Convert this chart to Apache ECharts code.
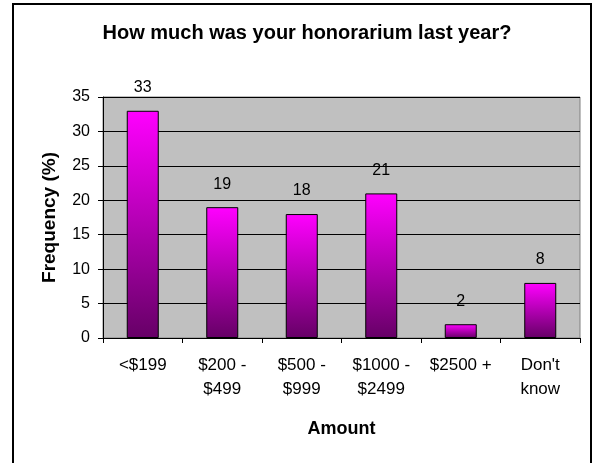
<!DOCTYPE html>
<html><head><meta charset="utf-8">
<script src="https://cdn.jsdelivr.net/npm/echarts@6/dist/echarts.min.js"></script>
<style>html,body{margin:0;padding:0;background:#fff}#c{width:596px;height:463px}</style>
</head><body><div id="c"></div>
<script>
var categories = ['<$199', '$200 -\n$499', '$500 -\n$999', '$1000 -\n$2499', '$2500 +', "Don't\nknow"];
var values = [33, 19, 18, 21, 2, 8];
var yTicks = [0, 5, 10, 15, 20, 25, 30, 35];
var titleText = 'How much was your honorarium last year?';
var xName = 'Amount';
var yName = 'Frequency (%)';

var chart = echarts.init(document.getElementById('c'), null, {renderer: 'canvas'});
var font = 'Liberation Sans, Arial, sans-serif';
chart.setOption({
  animation: false,
  backgroundColor: '#fff',
  graphic: [{type: 'rect', shape: {x: 13, y: 4, width: 578, height: 470}, style: {fill: 'none', stroke: '#000', lineWidth: 2}, z: 100}],
  title: {text: titleText, left: 302, top: 18, textAlign: 'center',
    textStyle: {fontFamily: font, fontSize: 20, fontWeight: 'bold', color: '#000'}},
  grid: {left: 103, top: 97, right: 16, bottom: 125, show: true, backgroundColor: '#C0C0C0', borderColor: '#808080', borderWidth: 1},
  xAxis: {type: 'category', data: categories, name: xName, nameLocation: 'middle', nameGap: 82,
    nameTextStyle: {fontFamily: font, fontSize: 18, fontWeight: 'bold', color: '#000'},
    axisLine: {lineStyle: {color: '#000', width: 1}},
    axisTick: {show: true, length: 5, lineStyle: {color: '#000'}},
    axisLabel: {fontFamily: font, fontSize: 17, color: '#000', margin: 15, lineHeight: 24, interval: 0}},
  yAxis: {type: 'value', min: yTicks[0], max: yTicks[yTicks.length - 1], interval: 5, name: yName, nameLocation: 'middle', nameGap: 44,
    nameTextStyle: {fontFamily: font, fontSize: 19, fontWeight: 'bold', color: '#000'},
    axisLine: {show: true, lineStyle: {color: '#000', width: 1}},
    axisTick: {show: true, length: 5, lineStyle: {color: '#000'}},
    axisLabel: {fontFamily: font, fontSize: 16, color: '#000', margin: 13},
    splitLine: {show: true, lineStyle: {color: '#000', width: 1}}},
  series: [{type: 'bar', data: values, barWidth: 32,
    itemStyle: {borderColor: '#000', borderWidth: 1,
      color: new echarts.graphic.LinearGradient(0, 0, 0, 1, [{offset: 0, color: '#FF00FF'}, {offset: 1, color: '#660066'}])},
    label: {show: true, position: 'top', distance: 15, fontFamily: font, fontSize: 16, color: '#000'}}]
});
</script></body></html>
